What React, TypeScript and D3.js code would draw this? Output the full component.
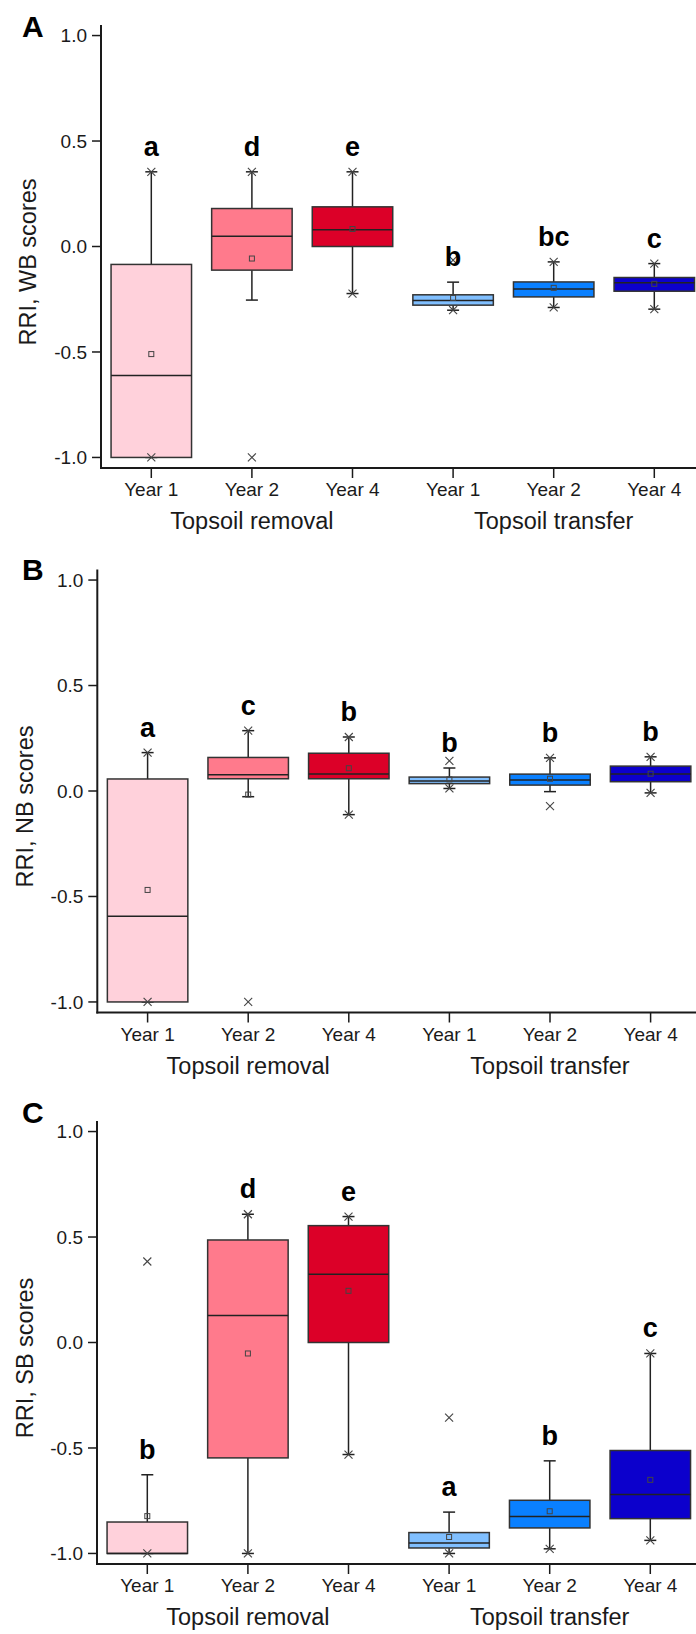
import React from 'react'
import * as d3 from 'd3'

const categories = ['Year 1', 'Year 2', 'Year 4', 'Year 1', 'Year 2', 'Year 4']
const groups = ['Topsoil removal', 'Topsoil transfer']
const boxColors = ['#ffd1db', '#ff7a8c', '#dc0028', '#80bfff', '#0a80ff', '#0c00cc']
const yTicks = [-1, -0.5, 0, 0.5, 1]

// A: WB scores
const wbMin = [-1.0, -1.0, -0.223, -0.302, -0.289, -0.297]
const wbLow = [-1.0, -0.254, -0.223, -0.302, -0.289, -0.297]
const wbQ1 = [-1.0, -0.112, 0.0, -0.278, -0.239, -0.212]
const wbMedian = [-0.611, 0.049, 0.079, -0.256, -0.201, -0.172]
const wbQ3 = [-0.085, 0.18, 0.188, -0.229, -0.168, -0.147]
const wbHigh = [0.354, 0.354, 0.354, -0.169, -0.073, -0.081]
const wbMax = [0.354, 0.354, 0.354, -0.065, -0.073, -0.081]
const wbMean = [-0.51, -0.057, 0.083, -0.244, -0.196, -0.177]
const wbLetters = ['a', 'd', 'e', 'b', 'bc', 'c']

// B: NB scores
const nbMin = [-1.0, -1.0, -0.112, 0.012, -0.072, -0.009]
const nbLow = [-1.0, -0.027, -0.112, 0.012, -0.003, -0.009]
const nbQ1 = [-1.0, 0.058, 0.058, 0.035, 0.028, 0.044]
const nbMedian = [-0.594, 0.077, 0.08, 0.047, 0.052, 0.08]
const nbQ3 = [0.057, 0.159, 0.179, 0.066, 0.08, 0.118]
const nbHigh = [0.182, 0.286, 0.256, 0.109, 0.157, 0.162]
const nbMax = [0.182, 0.286, 0.256, 0.143, 0.157, 0.162]
const nbMean = [-0.469, -0.017, 0.108, 0.055, 0.058, 0.082]
const nbLetters = ['a', 'c', 'b', 'b', 'b', 'b']

// C: SB scores
const sbMin = [-1.0, -1.0, -0.531, -1.0, -0.978, -0.938]
const sbLow = [-1.0, -1.0, -0.531, -1.0, -0.978, -0.938]
const sbQ1 = [-1.0, -0.547, 0.0, -0.974, -0.879, -0.835]
const sbMedian = [-1.0, 0.128, 0.323, -0.95, -0.825, -0.72]
const sbQ3 = [-0.851, 0.486, 0.554, -0.901, -0.748, -0.512]
const sbHigh = [-0.627, 0.608, 0.597, -0.804, -0.561, -0.052]
const sbMax = [0.384, 0.608, 0.597, -0.356, null, -0.052]
const sbMean = [-0.823, -0.052, 0.245, -0.922, -0.8, -0.651]
const sbLetters = ['b', 'd', 'e', 'a', 'b', 'c']

const FONT = 'Liberation Sans, Arial, sans-serif'
const INNER_H = 443
const STEP = 100.6

function Cross({ x, y }) {
  const s = 4
  return (
    <g stroke="#444" strokeWidth={1.1}>
      <line x1={x - s} y1={y - s} x2={x + s} y2={y + s} />
      <line x1={x - s} y1={y + s} x2={x + s} y2={y - s} />
    </g>
  )
}

function Panel(props) {
  const { label, title, left, top, titleX, labelY, s } = props
  const x = d3
    .scaleBand<number>()
    .domain(d3.range(categories.length))
    .range([0, STEP * categories.length])
    .paddingInner(0.2)
    .paddingOuter(0.1)
  const y = d3.scaleLinear().domain([-1.05, 1.05]).range([INNER_H, 0])
  const bw = x.bandwidth()
  const cx = (i) => x(i) + bw / 2
  const ink = '#1a1a1a'

  return (
    <g fontFamily={FONT}>
      <text x={22} y={labelY} fontSize={30} fontWeight="bold" fill="#000">
        {label}
      </text>
      <text
        transform={`translate(${titleX},${top + 237}) rotate(-90)`}
        textAnchor="middle"
        fontSize={23.5}
        fill={ink}
      >
        {title}
      </text>
      <g transform={`translate(${left},${top})`}>
        {/* whiskers */}
        {categories.map((c, i) => (
          <g key={'w' + i} stroke="#222" strokeWidth={1.5}>
            <line x1={cx(i)} x2={cx(i)} y1={y(s.high[i])} y2={y(s.q3[i])} />
            <line x1={cx(i)} x2={cx(i)} y1={y(s.low[i])} y2={y(s.q1[i])} />
            <line x1={cx(i) - 6} x2={cx(i) + 6} y1={y(s.high[i])} y2={y(s.high[i])} />
            <line x1={cx(i) - 6} x2={cx(i) + 6} y1={y(s.low[i])} y2={y(s.low[i])} />
          </g>
        ))}
        {/* boxes */}
        {categories.map((c, i) => (
          <g key={'b' + i}>
            <rect
              x={x(i)}
              width={bw}
              y={y(s.q3[i])}
              height={y(s.q1[i]) - y(s.q3[i])}
              fill={boxColors[i]}
              stroke="#333"
              strokeWidth={1.5}
            />
            <line
              x1={x(i)}
              x2={x(i) + bw}
              y1={y(s.median[i])}
              y2={y(s.median[i])}
              stroke="#222"
              strokeWidth={1.5}
            />
            <rect
              x={cx(i) - 2.5}
              y={y(s.mean[i]) - 2.5}
              width={5}
              height={5}
              fill="none"
              stroke="#444"
              strokeWidth={1}
            />
          </g>
        ))}
        {/* min / max markers */}
        {categories.map((c, i) => (
          <g key={'m' + i}>
            {s.max[i] != null && <Cross x={cx(i)} y={y(s.max[i])} />}
            {s.min[i] != null && <Cross x={cx(i)} y={y(s.min[i])} />}
          </g>
        ))}
        {/* significance letters */}
        {categories.map((c, i) => (
          <text
            key={'l' + i}
            x={cx(i)}
            y={y(s.high[i]) - 16}
            textAnchor="middle"
            fontSize={27}
            fontWeight="bold"
            fill="#000"
          >
            {s.letters[i]}
          </text>
        ))}
        {/* axes */}
        <line x1={0} x2={0} y1={0} y2={INNER_H + 1} stroke={ink} strokeWidth={2} />
        <line x1={-1} x2={700} y1={INNER_H} y2={INNER_H} stroke={ink} strokeWidth={2} />
        {yTicks.map((t) => (
          <g key={'yt' + t}>
            <line x1={-9} x2={0} y1={y(t)} y2={y(t)} stroke={ink} strokeWidth={1.5} />
            <text x={-14} y={y(t)} dy="0.36em" textAnchor="end" fontSize={19} fill={ink}>
              {t.toFixed(1)}
            </text>
          </g>
        ))}
        {categories.map((c, i) => (
          <g key={'xt' + i}>
            <line x1={cx(i)} x2={cx(i)} y1={INNER_H} y2={INNER_H + 10} stroke={ink} strokeWidth={1.5} />
            <text x={cx(i)} y={INNER_H + 28} textAnchor="middle" fontSize={19} fill={ink}>
              {c}
            </text>
          </g>
        ))}
        {groups.map((g, j) => (
          <text key={g} x={cx(j * 3 + 1)} y={INNER_H + 61} textAnchor="middle" fontSize={23.5} fill={ink}>
            {g}
          </text>
        ))}
      </g>
    </g>
  )
}

const panels = [
  {
    label: 'A',
    title: 'RRI, WB scores',
    left: 101,
    top: 25,
    titleX: 36,
    labelY: 37,
    s: { min: wbMin, low: wbLow, q1: wbQ1, median: wbMedian, q3: wbQ3, high: wbHigh, max: wbMax, mean: wbMean, letters: wbLetters }
  },
  {
    label: 'B',
    title: 'RRI, NB scores',
    left: 97.3,
    top: 569.5,
    titleX: 33,
    labelY: 580,
    s: { min: nbMin, low: nbLow, q1: nbQ1, median: nbMedian, q3: nbQ3, high: nbHigh, max: nbMax, mean: nbMean, letters: nbLetters }
  },
  {
    label: 'C',
    title: 'RRI, SB scores',
    left: 97,
    top: 1121,
    titleX: 33,
    labelY: 1123,
    s: { min: sbMin, low: sbLow, q1: sbQ1, median: sbMedian, q3: sbQ3, high: sbHigh, max: sbMax, mean: sbMean, letters: sbLetters }
  }
]

export default function App() {
  return (
    <svg
      width={696}
      height={1634}
      style={{ position: 'absolute', left: 0, top: 0, background: '#fff' }}
    >
      <rect width={696} height={1634} fill="#fff" />
      {panels.map((p) => (
        <Panel key={p.label} {...p} />
      ))}
    </svg>
  )
}
